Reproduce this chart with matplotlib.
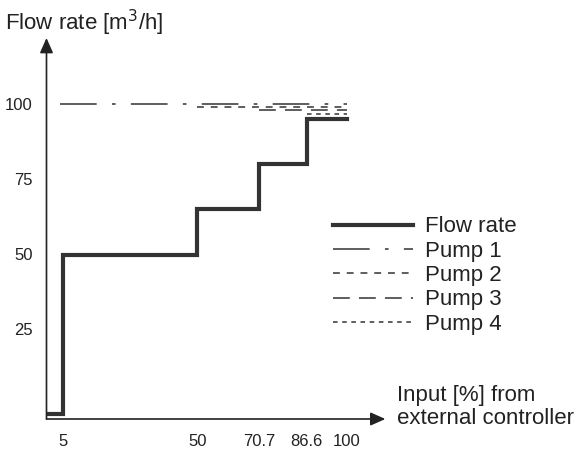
import matplotlib
matplotlib.use("Agg")
import matplotlib.pyplot as plt
from matplotlib.lines import Line2D

plt.rcParams['font.family'] = ['Liberation Sans', 'DejaVu Sans']

# step curve of total flow vs controller input
input_pct = [0, 5, 50, 70.7, 86.6, 100]
flow_rate = [-3.5, 49.5, 65, 80, 95, 95]

# each pump curve: where it starts and its level
pump_names = ['Pump 1', 'Pump 2', 'Pump 3', 'Pump 4']
pump_start = [4, 50, 70.7, 86.6]
pump_end = [100, 100, 100, 100]
pump_level = [100, 99, 98, 96.7]
pump_styles = [(0, (24, 10, 2.4, 10)), (0, (4.5, 4.5)), (0, (11, 6)), (0, (3, 3))]

xticks = [5, 50, 70.7, 86.6, 100]
xtick_labels = ['5', '50', '70.7', '86.6', '100']
yticks = [25, 50, 75, 100]

line_col = '#333333'

fig = plt.figure(figsize=(5.79, 4.5), dpi=100)
ax = fig.add_axes([0.0803, 0.0689, 0.5853, 0.8467])
ax.set_xlim(-0.5, 113)
ax.set_ylim(-5, 122)

ax.step(input_pct, flow_rate, where='post', color=line_col, lw=3, solid_joinstyle='miter')
for i in range(len(pump_names)):
    ax.plot([pump_start[i], pump_end[i]], [pump_level[i]] * 2, color=line_col,
            lw=1.1, linestyle=pump_styles[i])

for s in ax.spines.values():
    s.set_visible(False)

# axes drawn as arrows
arrow = dict(arrowstyle='-|>,head_length=0.9,head_width=0.4', color='#222222',
             lw=1.2, mutation_scale=10, shrinkA=0, shrinkB=0)
ax.annotate('', xy=(113, -5), xytext=(-0.5, -5), arrowprops=arrow, annotation_clip=False)
ax.annotate('', xy=(-0.5, 122), xytext=(-0.5, -5), arrowprops=arrow, annotation_clip=False)

ax.set_xticks(xticks)
ax.set_xticklabels(xtick_labels)
ax.set_yticks(yticks)
ax.tick_params(length=0, labelsize=12, colors='#222222')
ax.tick_params(axis='x', pad=11)
ax.tick_params(axis='y', pad=10)

fig.text(5 / 579, 1 - 23 / 450, 'Flow rate [m$^3$/h]', fontsize=16, va='center',
         ha='left', color='#222222')
fig.text(397 / 579, 1 - 407 / 450, 'Input [%] from\nexternal controller', fontsize=16,
         va='center', ha='left', color='#222222', linespacing=1.1)

handles = [Line2D([], [], color=line_col, lw=3)]
for i in range(len(pump_names)):
    handles.append(Line2D([], [], color=line_col, lw=1.1, linestyle=pump_styles[i]))
leg = ax.legend(handles, ['Flow rate'] + pump_names, frameon=False, fontsize=16,
                loc='center left', bbox_to_anchor=(333 / 579, 1 - 275.5 / 450),
                bbox_transform=fig.transFigure, borderpad=0, borderaxespad=0,
                handlelength=3.6, handletextpad=0.55, labelspacing=0.15)
for t in leg.get_texts():
    t.set_color('#222222')

fig.savefig('out.png', dpi=100)
